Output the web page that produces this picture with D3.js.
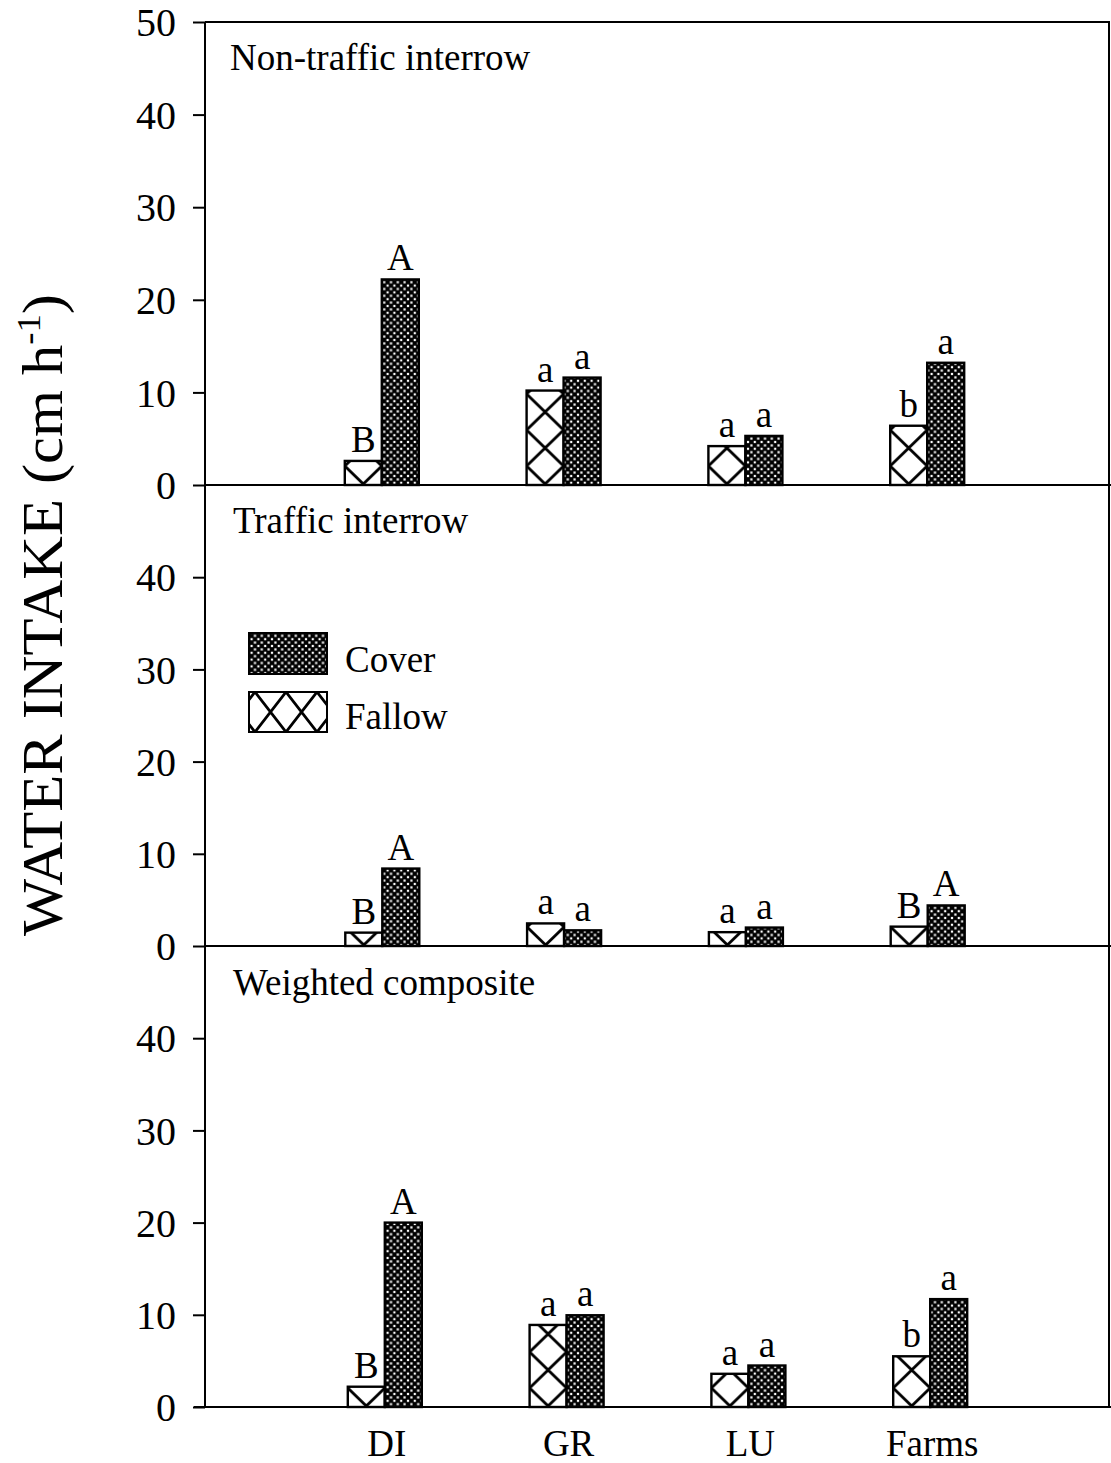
<!DOCTYPE html>
<html>
<head>
<meta charset="utf-8">
<script src="https://cdn.jsdelivr.net/npm/d3@7"></script>
<style>
  html, body { margin: 0; padding: 0; background: #fff; }
  svg { display: block; }
  text { font-family: "Liberation Serif", "Times New Roman", serif; fill: #000; }
</style>
</head>
<body>
<svg id="chart" width="1111" height="1463"></svg>
<script>
// ---------- data ----------
const categories = ["DI", "GR", "LU", "Farms"];
const panelTitles = ["Non-traffic interrow", "Traffic interrow", "Weighted composite"];
const seriesNames = ["Cover", "Fallow"];

const nonTrafficFallow = [2.6, 10.2, 4.2, 6.4];
const nonTrafficCover  = [22.2, 11.6, 5.3, 13.2];
const nonTrafficFallowLetters = ["B", "a", "a", "b"];
const nonTrafficCoverLetters  = ["A", "a", "a", "a"];

const trafficFallow = [1.45, 2.45, 1.5, 2.1];
const trafficCover  = [8.4, 1.7, 2.0, 4.4];
const trafficFallowLetters = ["B", "a", "a", "B"];
const trafficCoverLetters  = ["A", "a", "a", "A"];

const compositeFallow = [2.2, 8.9, 3.6, 5.5];
const compositeCover  = [20.0, 9.95, 4.5, 11.7];
const compositeFallowLetters = ["B", "a", "a", "b"];
const compositeCoverLetters  = ["A", "a", "a", "a"];

const ticksTopPanel = [0, 10, 20, 30, 40, 50];
const ticksOtherPanels = [0, 10, 20, 30, 40];
const yAxisTitle = "WATER INTAKE (cm h";
const yAxisSup = "-1";

// ---------- layout ----------
const svg = d3.select("#chart");
const defs = svg.append("defs");

const panels = [
  { title: panelTitles[0], fallow: nonTrafficFallow, cover: nonTrafficCover,
    fl: nonTrafficFallowLetters, cl: nonTrafficCoverLetters, ticks: ticksTopPanel,
    top: 22, bottom: 485, xr: [200, 1109], titleY: 70 },
  { title: panelTitles[1], fallow: trafficFallow, cover: trafficCover,
    fl: trafficFallowLetters, cl: trafficCoverLetters, ticks: ticksOtherPanels,
    top: 485, bottom: 946, xr: [200.5, 1109.5], titleY: 533 },
  { title: panelTitles[2], fallow: compositeFallow, cover: compositeCover,
    fl: compositeFallowLetters, cl: compositeCoverLetters, ticks: ticksOtherPanels,
    top: 946, bottom: 1407, xr: [203, 1112], titleY: 995 }
];

const axisX = 205;
const rightX = 1109;
const barW = 37;

// cover pattern: black with white diamonds (quincunx)
const T = 6.8;
const cp = defs.append("pattern").attr("id", "coverPat")
  .attr("patternUnits", "userSpaceOnUse").attr("width", T).attr("height", T);
cp.append("rect").attr("width", T).attr("height", T).attr("fill", "#000");
[[0,0],[T,0],[0,T],[T,T],[T/2,T/2]].forEach(([cx, cy]) => {
  cp.append("rect").attr("x", cx - 1.1).attr("y", cy - 1.1).attr("width", 2.2).attr("height", 2.2).attr("fill", "#fff");
});

let patCount = 0;
function fallowPattern(x0, y0, w, h) {
  const id = "fal" + (patCount++);
  const p = defs.append("pattern").attr("id", id)
    .attr("patternUnits", "userSpaceOnUse")
    .attr("x", x0).attr("y", y0).attr("width", w).attr("height", h);
  p.append("rect").attr("width", w).attr("height", h).attr("fill", "#fff");
  p.append("path").attr("d", `M0,0L${w},${h}M${w},0L0,${h}`)
    .attr("stroke", "#000").attr("stroke-width", 2.8).attr("fill", "none");
  return id;
}

panels.forEach((P, pi) => {
  const x = d3.scaleLinear().domain([0, 5]).range(P.xr);
  const y = d3.scaleLinear().domain([0, 50]).range([P.bottom, P.top]);
  const g = svg.append("g");

  // y axis
  const ax = g.append("g").attr("transform", `translate(${axisX},0)`)
    .call(d3.axisLeft(y).tickValues(P.ticks).tickSize(12).tickPadding(17).tickFormat(d3.format("d")));
  ax.select(".domain").attr("stroke-width", 2).attr("d", `M0,${P.top}V${P.bottom}`);
  ax.selectAll(".tick line").attr("stroke-width", 2);
  ax.selectAll(".tick text").attr("font-size", 40).attr("font-family", "Liberation Serif").attr("dy", "0.34em");

  // baseline (x axis)
  g.append("line").attr("x1", pi === 2 ? 194 : axisX).attr("x2", 1111)
    .attr("y1", y(0)).attr("y2", y(0)).attr("stroke", "#000").attr("stroke-width", 2.2);

  // title
  g.append("text").attr("x", pi === 0 ? 230 : 233).attr("y", P.titleY)
    .attr("font-size", 37).text(P.title);

  // bars
  categories.forEach((c, i) => {
    const cx = x(i + 1);
    const fx = cx - barW, fTop = y(P.fallow[i]);
    const pid = fallowPattern(fx, y(0) - 19, barW, 36);
    g.append("rect").attr("x", fx).attr("y", fTop).attr("width", barW)
      .attr("height", y(0) - fTop).attr("fill", `url(#${pid})`)
      .attr("stroke", "#000").attr("stroke-width", 2.4);
    const cTop = y(P.cover[i]);
    g.append("rect").attr("x", cx).attr("y", cTop).attr("width", barW)
      .attr("height", y(0) - cTop).attr("fill", "url(#coverPat)")
      .attr("stroke", "#000").attr("stroke-width", 2.4);
    g.append("text").attr("x", fx + barW / 2).attr("y", fTop - 9)
      .attr("text-anchor", "middle").attr("font-size", 37).text(P.fl[i]);
    g.append("text").attr("x", cx + barW / 2).attr("y", cTop - 9)
      .attr("text-anchor", "middle").attr("font-size", 37).text(P.cl[i]);
  });

  if (pi === 2) {
    categories.forEach((c, i) => {
      svg.append("text").attr("x", x(i + 1) + 2).attr("y", 1456)
        .attr("text-anchor", "middle").attr("font-size", 37).text(c);
    });
  }
});

// top frame and right border
svg.append("line").attr("x1", axisX).attr("x2", rightX).attr("y1", 22).attr("y2", 22)
  .attr("stroke", "#000").attr("stroke-width", 2.2);
svg.append("line").attr("x1", rightX).attr("x2", rightX).attr("y1", 21).attr("y2", 1407)
  .attr("stroke", "#000").attr("stroke-width", 2);

// legend
const legend = svg.append("g");
legend.append("rect").attr("x", 249).attr("y", 633).attr("width", 78).attr("height", 41)
  .attr("fill", "url(#coverPat)").attr("stroke", "#000").attr("stroke-width", 2);
const lp = fallowPattern(255, 692, 31, 40);
legend.append("rect").attr("x", 249).attr("y", 692).attr("width", 78).attr("height", 40)
  .attr("fill", `url(#${lp})`).attr("stroke", "#000").attr("stroke-width", 2);
legend.append("text").attr("x", 345).attr("y", 672).attr("font-size", 37).text(seriesNames[0]);
legend.append("text").attr("x", 345).attr("y", 729).attr("font-size", 37).text(seriesNames[1]);

// y axis title
const yt = svg.append("text").attr("transform", "translate(62,615) rotate(-90) scale(1.08,1)")
  .attr("text-anchor", "middle").attr("font-size", 56);
yt.append("tspan").text(yAxisTitle);
yt.append("tspan").attr("font-size", 34).attr("dy", -22).text(yAxisSup);
yt.append("tspan").attr("dy", 22).text(")");
</script>
</body>
</html>
